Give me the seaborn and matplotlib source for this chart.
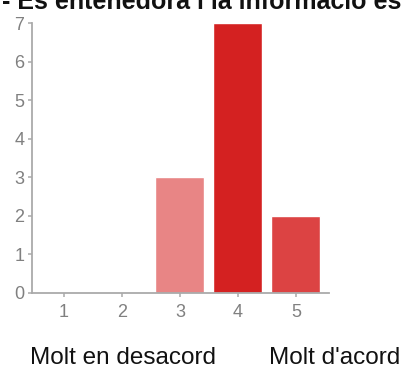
import matplotlib
matplotlib.use("Agg")
import matplotlib.pyplot as plt
import seaborn as sns

# survey answers, 1 = "Molt en desacord" ... 5 = "Molt d'acord"
categories = ["1", "2", "3", "4", "5"]
counts = [0, 0, 3, 7, 2]
bar_colors = ["#f4c7c7", "#eea5a5", "#e88585", "#d42121", "#dc4343"]
y_ticks = [0, 1, 2, 3, 4, 5, 6, 7]

title = "- Es entenedora i la informació és clara?"
left_note = "Molt en desacord"
right_note = "Molt d'acord"

sns.set_style("white")
plt.rcParams["font.family"] = ["Liberation Sans", "DejaVu Sans"]

W, H = 406, 369
fig = plt.figure(figsize=(W / 100, H / 100), dpi=100)
ax = fig.add_axes([32 / W, 76.3 / H, 297 / W, 269.4 / H])

sns.barplot(x=categories, y=counts, hue=categories, palette=bar_colors,
            width=0.845, legend=False, saturation=1, ax=ax)

ax.set_xlim(-0.55, 4.57)
ax.set_ylim(0, 7)
ax.set_yticks(y_ticks)
ax.set_xlabel("")
ax.set_ylabel("")

for side in ["top", "right"]:
    ax.spines[side].set_visible(False)
for side in ["left", "bottom"]:
    ax.spines[side].set_color("#aaaaaa")
    ax.spines[side].set_linewidth(1.3)

ax.tick_params(axis="both", length=3, width=1.1, color="#aaaaaa",
               labelcolor="#808080", labelsize=13)
ax.tick_params(axis="x", bottom=True, pad=5)
ax.tick_params(axis="y", left=True, pad=2.5)

# title is cropped at the top edge, like in the original screenshot
fig.text(2 / W, 1 - 9 / H, title, fontsize=18, fontweight="bold",
         va="baseline", ha="left", color="#111111")
fig.text(123 / W, 0.5 / H, left_note, fontsize=17.5, va="bottom",
         ha="center", color="#111111")
fig.text(335 / W, 0.5 / H, right_note, fontsize=17.5, va="bottom",
         ha="center", color="#111111")

fig.savefig("out.png", dpi=100)
plt.close(fig)
